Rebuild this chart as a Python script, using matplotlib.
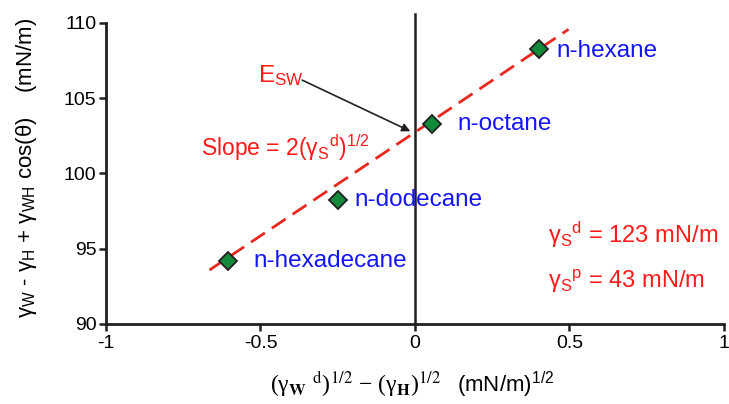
import numpy as np
import matplotlib
matplotlib.use('Agg')
import matplotlib.pyplot as plt

plt.rcParams['font.family'] = ['Liberation Sans', 'DejaVu Sans']
plt.rcParams['mathtext.fontset'] = 'custom'
plt.rcParams['mathtext.rm'] = 'Liberation Sans'
plt.rcParams['mathtext.it'] = 'Liberation Sans:italic'
plt.rcParams['mathtext.bf'] = 'Liberation Sans:bold'

# datos
solventes = ['n-hexane', 'n-octane', 'n-dodecane', 'n-hexadecane']
x_vals = [0.40, 0.055, -0.25, -0.605]
y_vals = [108.3, 103.3, 98.2, 94.15]
recta_x = [-0.665, 0.497]
recta_y = [93.57, 109.58]
x_ticks = [-1, -0.5, 0, 0.5, 1]
x_ticklabels = ['-1', '-0.5', '0', '0.5', '1']
y_ticks = [90, 95, 100, 105, 110]

fig = plt.figure(figsize=(7.29, 4.04), dpi=100)
ax = fig.add_axes([0.1454, 0.1988, 0.8477, 0.7443])

negro = '#231f20'
rojo = '#ff1a1a'
azul = '#1414ff'
fs = 17.5

# recta ajustada y eje vertical en x=0
ax.plot(recta_x, recta_y, color='#e8281e', lw=2, dashes=(6, 3), zorder=2)
ax.plot([0, 0], [90, 110.6], color=negro, lw=1.8, clip_on=False, zorder=1)
ax.plot(x_vals, y_vals, 'D', ms=9, mfc='#138a3a', mec=negro, mew=1.3, zorder=3)

# etiquetas de los solventes
offsets = [(13, -2), (18, 0), (12, 0), (18, 0)]
for nombre, x, y, off in zip(solventes, x_vals, y_vals, offsets):
    ax.annotate(nombre, (x, y), xytext=off, textcoords='offset points',
                color=azul, fontsize=fs, va='center', ha='left')

ax.text(-0.507, 106.5, r'E$_\mathrm{SW}$', color=rojo, fontsize=fs, va='center')
ax.annotate('', xy=(-0.015, 102.8), xytext=(-0.365, 106.2),
            arrowprops=dict(arrowstyle='-|>', color=negro, lw=1.2,
                            mutation_scale=12, shrinkA=0, shrinkB=0))
ax.text(-0.694, 101.7, r'Slope = 2(γ$_\mathrm{S}$$^\mathrm{d}$)$^\mathrm{1/2}$',
        color=rojo, fontsize=16.5, va='center')
ax.text(0.429, 95.9, r'γ$_\mathrm{S}$$^\mathrm{d}$ = 123 mN/m', color=rojo,
        fontsize=17, va='center')
ax.text(0.429, 92.8, r'γ$_\mathrm{S}$$^\mathrm{p}$ = 43 mN/m', color=rojo,
        fontsize=17, va='center')

ax.set_xlim(-1, 1)
ax.set_ylim(90, 110)
ax.set_xticks(x_ticks)
ax.set_xticklabels(x_ticklabels)
ax.set_yticks(y_ticks)
ax.tick_params(labelsize=14, width=1.8, length=5, color=negro, labelcolor='black')
ax.tick_params(axis='y', pad=2)
for s in ['top', 'right']:
    ax.spines[s].set_visible(False)
for s in ['left', 'bottom']:
    ax.spines[s].set_linewidth(2)
    ax.spines[s].set_color(negro)

fig.text(0.036, 0.585, r'γ$_\mathrm{W}$ - γ$_\mathrm{H}$ + γ$_\mathrm{WH}$ cos(θ)    (mN/m)',
         rotation=90, fontsize=16, va='center', ha='center')

fig.text(0.627, 0.03, r'(mN/m)$^\mathrm{1/2}$', fontsize=16, va='baseline', ha='left')
fig.text(0.37, 0.03, r'(γ$_{\mathbf{W}}$ $^\mathrm{d}$)$^{1/2}$ − (γ$_\mathbf{H}$)$^{1/2}$',
         fontsize=17, family=['Liberation Serif', 'DejaVu Serif'], va='baseline', ha='left',
         math_fontfamily='stix')

fig.savefig('out.png', dpi=100)
